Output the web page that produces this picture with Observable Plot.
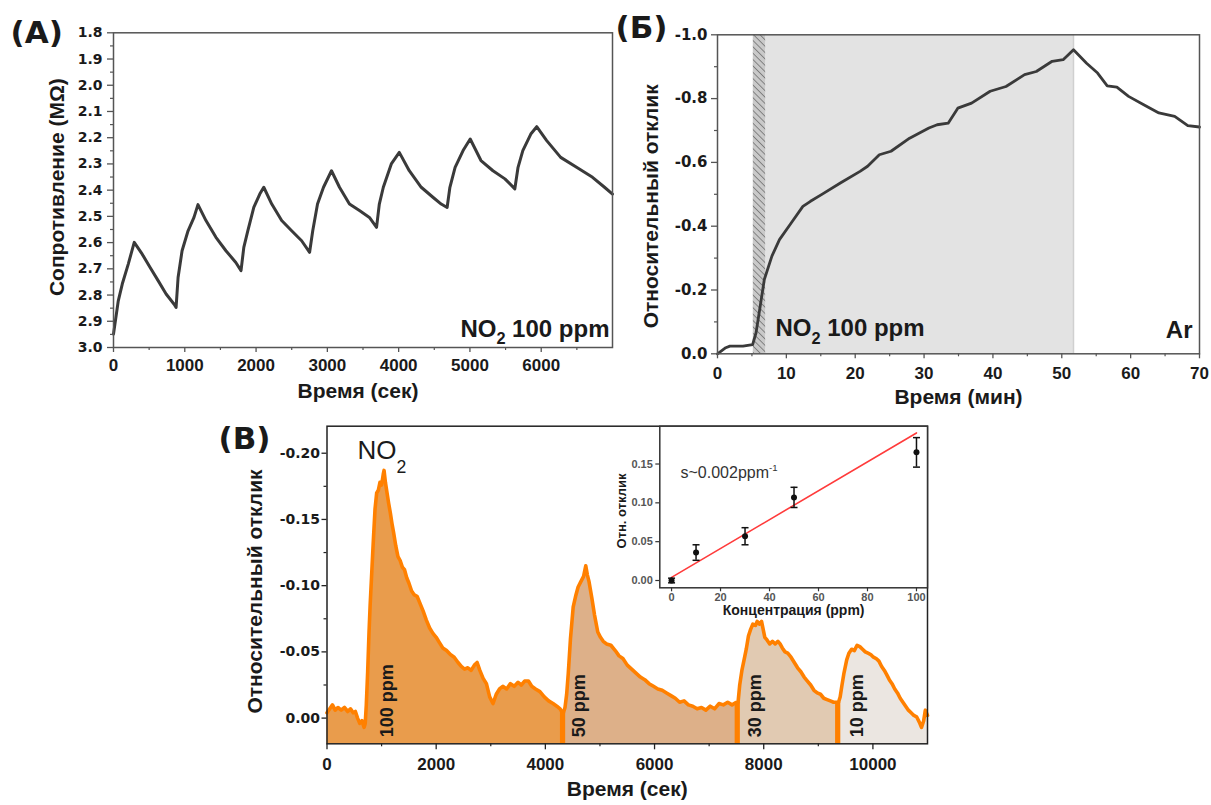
<!DOCTYPE html>
<html><head><meta charset="utf-8">
<script src="https://cdn.jsdelivr.net/npm/d3@7"></script>
<script src="https://cdn.jsdelivr.net/npm/@observablehq/plot@0.6"></script>
<style>
body{margin:0;background:#fff;}
#fig{position:relative;width:1211px;height:805px;background:#fff;overflow:hidden;}
#fig svg{position:absolute;}
</style></head><body><div id="fig"></div>
<script>
// ---------- Panel A: resistance vs time ----------
const aTime = [0,67,123,207,291,403,514,626,738,850,878,906,962,1046,1129,1185,1297,1437,1577,1716,1789,1828,1884,1968,2052,2108,2220,2359,2499,2639,2751,2795,2862,2946,3058,3170,3310,3450,3590,3690,3729,3785,3897,4009,4149,4317,4485,4597,4680,4719,4792,4904,5004,5155,5323,5491,5630,5675,5742,5854,5937,6077,6273,6496,6720,6888,7000];
const aRes  = [2.949,2.822,2.758,2.682,2.599,2.644,2.695,2.745,2.796,2.835,2.847,2.733,2.631,2.555,2.504,2.455,2.516,2.58,2.631,2.676,2.707,2.618,2.555,2.466,2.415,2.389,2.453,2.516,2.555,2.593,2.637,2.555,2.453,2.389,2.326,2.389,2.453,2.478,2.504,2.542,2.453,2.389,2.3,2.256,2.326,2.389,2.428,2.453,2.466,2.389,2.313,2.249,2.205,2.287,2.326,2.357,2.395,2.313,2.249,2.186,2.158,2.211,2.275,2.313,2.351,2.389,2.415];
const aYTicks = [1.8,1.9,2.0,2.1,2.2,2.3,2.4,2.5,2.6,2.7,2.8,2.9,3.0];
const aYMinor = [1.85,1.95,2.05,2.15,2.25,2.35,2.45,2.55,2.65,2.75,2.85,2.95];
const aXTicks = [0,1000,2000,3000,4000,5000,6000];
const aXMinor = [500,1500,2500,3500,4500,5500,6500];

// ---------- Panel Б: relative response vs time (min) ----------
const bTime = [0,1.2,1.8,3.7,5.1,5.6,6.2,6.8,7.9,9.0,10.7,12.4,13.5,15.1,17.9,20.7,21.8,23.5,25.2,27.9,30.7,31.9,33.5,34.9,36.9,39.6,41.9,44.6,46.3,48.6,50.2,51.7,53.6,55.2,56.6,58.0,59.7,61.9,64.1,66.4,68.3,70];
const bResp = [0,-0.019,-0.024,-0.024,-0.029,-0.066,-0.149,-0.233,-0.306,-0.358,-0.41,-0.462,-0.478,-0.499,-0.536,-0.572,-0.588,-0.624,-0.635,-0.676,-0.708,-0.718,-0.723,-0.770,-0.786,-0.823,-0.838,-0.875,-0.885,-0.917,-0.922,-0.953,-0.911,-0.880,-0.840,-0.836,-0.807,-0.781,-0.755,-0.744,-0.715,-0.711];
const bHatch = [5.2, 7.0];
const bGas = [7.0, 51.7];
const bYTicks = [-1.0,-0.8,-0.6,-0.4,-0.2,0.0];
const bYMinor = [-0.9,-0.7,-0.5,-0.3,-0.1];
const bXTicks = [0,10,20,30,40,50,60,70];
const bXMinor = [5,15,25,35,45,55,65];

// ---------- Panel В: response to NO2 pulses ----------
const seg100 = [[0,-0.004],[50,-0.007],[100,-0.010],[150,-0.006],[200,-0.008],[260,-0.006],[320,-0.008],[380,-0.005],[430,-0.007],[480,-0.004],[520,-0.005],[560,0.000],[600,0.004],[640,0.002],[680,0.007],[700,0.004],[720,-0.010],[745,-0.035],[770,-0.065],[790,-0.085],[820,-0.110],[850,-0.135],[880,-0.158],[910,-0.170],[940,-0.172],[970,-0.178],[1000,-0.176],[1030,-0.184],[1045,-0.187],[1070,-0.178],[1100,-0.170],[1130,-0.162],[1160,-0.155],[1190,-0.147],[1220,-0.140],[1260,-0.130],[1300,-0.122],[1340,-0.119],[1380,-0.114],[1420,-0.112],[1460,-0.106],[1500,-0.102],[1550,-0.096],[1600,-0.093],[1650,-0.092],[1700,-0.087],[1760,-0.081],[1820,-0.074],[1880,-0.068],[1940,-0.064],[2000,-0.061],[2060,-0.057],[2120,-0.053],[2190,-0.051],[2260,-0.048],[2330,-0.046],[2400,-0.042],[2460,-0.039],[2520,-0.037],[2580,-0.038],[2640,-0.036],[2700,-0.040],[2750,-0.042],[2800,-0.036],[2860,-0.030],[2920,-0.026],[2980,-0.016],[3040,-0.011],[3100,-0.018],[3160,-0.022],[3220,-0.024],[3290,-0.022],[3360,-0.026],[3430,-0.024],[3500,-0.027],[3560,-0.025],[3620,-0.028],[3690,-0.028],[3750,-0.024],[3820,-0.022],[3900,-0.020],[3980,-0.016],[4060,-0.013],[4140,-0.011],[4210,-0.009],[4270,-0.007],[4300,-0.005]];
const seg50 = [[4330,-0.004],[4360,-0.008],[4390,-0.018],[4420,-0.034],[4460,-0.060],[4510,-0.084],[4560,-0.093],[4600,-0.099],[4650,-0.103],[4700,-0.107],[4740,-0.115],[4770,-0.108],[4800,-0.103],[4850,-0.091],[4900,-0.078],[4960,-0.065],[5010,-0.061],[5060,-0.058],[5120,-0.056],[5200,-0.055],[5280,-0.051],[5350,-0.047],[5420,-0.045],[5500,-0.040],[5580,-0.037],[5660,-0.034],[5740,-0.031],[5820,-0.029],[5900,-0.026],[5980,-0.024],[6060,-0.022],[6140,-0.021],[6220,-0.019],[6300,-0.017],[6380,-0.015],[6460,-0.012],[6540,-0.013],[6620,-0.010],[6700,-0.009],[6780,-0.007],[6860,-0.008],[6940,-0.006],[7020,-0.009],[7100,-0.007],[7180,-0.011],[7260,-0.010],[7340,-0.012],[7420,-0.010],[7500,-0.012]];
const seg30 = [[7530,-0.012],[7560,-0.025],[7600,-0.036],[7640,-0.044],[7680,-0.052],[7720,-0.062],[7760,-0.067],[7800,-0.071],[7850,-0.070],[7880,-0.073],[7920,-0.071],[7960,-0.073],[7990,-0.067],[8020,-0.061],[8060,-0.059],[8110,-0.056],[8160,-0.058],[8210,-0.056],[8260,-0.058],[8300,-0.056],[8340,-0.053],[8390,-0.050],[8440,-0.049],[8500,-0.046],[8560,-0.042],[8620,-0.038],[8680,-0.035],[8740,-0.031],[8800,-0.028],[8860,-0.025],[8920,-0.021],[8980,-0.019],[9040,-0.018],[9100,-0.015],[9160,-0.014],[9220,-0.013],[9280,-0.012],[9340,-0.012]];
const seg10 = [[9370,-0.012],[9400,-0.016],[9430,-0.024],[9470,-0.034],[9520,-0.044],[9560,-0.049],[9610,-0.052],[9660,-0.051],[9710,-0.055],[9760,-0.054],[9810,-0.052],[9860,-0.050],[9910,-0.049],[9960,-0.048],[10010,-0.046],[10060,-0.045],[10110,-0.043],[10160,-0.039],[10210,-0.036],[10250,-0.033],[10300,-0.029],[10350,-0.026],[10400,-0.022],[10450,-0.019],[10500,-0.015],[10550,-0.012],[10600,-0.009],[10650,-0.006],[10700,-0.004],[10750,-0.002],[10800,-0.001],[10850,0.003],[10890,0.007],[10930,0.002],[10960,-0.006],[11000,-0.002]];
const ppmLabels = ["100 ppm","50 ppm","30 ppm","10 ppm"];
const ppmLabelTime = [1108, 4615, 7839, 9716];
const cYTicks = [-0.20,-0.15,-0.10,-0.05,0.00];
const cYMinor = [-0.175,-0.125,-0.075,-0.025];
const cXTicks = [0,2000,4000,6000,8000,10000];
const cXMinor = [1000,3000,5000,7000,9000];

// ---------- Inset: response vs concentration ----------
const concPpm  = [0, 10, 30, 50, 100];
const concResp = [0.000, 0.036, 0.057, 0.107, 0.165];
const concErr  = [0.003, 0.010, 0.011, 0.013, 0.019];
const fitPpm   = [0, 100];
const fitResp  = [0.004, 0.190];
const iYTicks = [0.00,0.05,0.10,0.15];
const iXTicks = [0,20,40,60,80,100];

// ---------- helpers ----------
const FT = "'Liberation Sans', Arial, sans-serif";
const FD = "'DejaVu Sans', sans-serif";
const INK = "#1a1a1a";
const baseStyle = {fontFamily: FT, fontSize: "16px", fontWeight: "bold", color: INK, background: "transparent", overflow: "visible"};
const blank = () => "";
const fig = document.getElementById("fig");
function place(svg, left, top) { svg.style.left = left + "px"; svg.style.top = top + "px"; fig.appendChild(svg); }
const NS = "http://www.w3.org/2000/svg";
function richText(svg) {
  svg.querySelectorAll("text").forEach(el => {
    const s = el.textContent;
    let mark, rep, dy, size;
    if (s.includes("₂")) { mark = "₂"; rep = "2"; size = 0.68; dy = (s.length <= 3 ? 0.55 : 0.33); }
    else if (s.includes("⁻¹")) { mark = "⁻¹"; rep = "-1"; size = 0.6; dy = -0.42; }
    else return;
    const [pre, post] = s.split(mark);
    while (el.firstChild) el.removeChild(el.firstChild);
    const a = document.createElementNS(NS, "tspan"); a.textContent = pre; el.appendChild(a);
    const b = document.createElementNS(NS, "tspan"); b.textContent = rep;
    b.setAttribute("font-size", (size * 100) + "%"); b.setAttribute("dy", (dy / size) + "em"); el.appendChild(b);
    if (post) { const c = document.createElementNS(NS, "tspan"); c.textContent = post; c.setAttribute("dy", (-dy) + "em"); el.appendChild(c); }
  });
}
// rotated (-90°) title centred at screen offset (sx, sy) from the frame's left-middle point
const vTitle = (txt, sx, sy, size) => Plot.text([txt], {frameAnchor: "left", rotate: -90, textAnchor: "middle", dx: sx, dy: sy, fontSize: size, fill: INK});

// ---------- Panel A ----------
const dataA = aTime.map((t, i) => ({t, r: aRes[i]}));
const plotA = Plot.plot({
  width: 625, height: 410, marginLeft: 113, marginRight: 13, marginTop: 32.3, marginBottom: 63,
  style: baseStyle,
  x: {domain: [0, 7000]},
  y: {domain: [1.8, 3.0], reverse: true},
  marks: [
    Plot.line(dataA, {x: "t", y: "r", stroke: "#3a3a3a", strokeWidth: 3, strokeLinejoin: "round"}),
    Plot.frame({stroke: "#555", strokeWidth: 1.5}),
    Plot.axisY({ticks: aYTicks, tickFormat: d => d.toFixed(1), tickSize: 6, tickPadding: 5, label: null, fontFamily: FD, fontSize: 14, fill: INK, stroke: "#555", strokeWidth: 1.3}),
    Plot.axisY({ticks: aYMinor, tickFormat: blank, tickSize: 3, label: null, stroke: "#555", strokeWidth: 1.2}),
    Plot.axisX({ticks: aXTicks, tickFormat: d => String(d), tickSize: 5, tickPadding: 6, label: null, fontSize: 17, fill: INK, stroke: "#555", strokeWidth: 1.3}),
    Plot.axisX({ticks: aXMinor, tickFormat: blank, tickSize: 3, label: null, stroke: "#555", strokeWidth: 1.2}),
    Plot.text(["Время (сек)"], {frameAnchor: "bottom", dx: -5, dy: 50, fontSize: 21, fill: INK}),
    vTitle("Сопротивление (MΩ)", -56, -3, 21),
    Plot.text(["NO₂ 100 ppm"], {frameAnchor: "bottom-right", dx: -3, dy: -11, textAnchor: "end", lineAnchor: "bottom", fontSize: 24, fill: INK}),
    Plot.text(["(A)"], {frameAnchor: "top-left", dx: -103, dy: 10, textAnchor: "start", lineAnchor: "bottom", fontFamily: FD, fontSize: 31, fill: INK})
  ]
});
richText(plotA);
place(plotA, 0, 0);

// ---------- Panel Б ----------
const dataB = bTime.map((t, i) => ({t, v: bResp[i]}));
const plotB = Plot.plot({
  width: 601, height: 410, marginLeft: 107, marginRight: 12, marginTop: 34.3, marginBottom: 56.7,
  style: baseStyle,
  x: {domain: [0, 70]},
  y: {domain: [0, -1]},
  marks: [
    () => {
      const defs = document.createElementNS(NS, "defs");
      defs.innerHTML = '<pattern id="hatchB" patternUnits="userSpaceOnUse" width="4.5" height="4.5" patternTransform="rotate(-45)"><rect width="4.5" height="4.5" fill="#c9c9c9"/><line x1="0" y1="0" x2="0" y2="4.5" stroke="#4a4a4a" stroke-width="1.1"/></pattern>';
      return defs;
    },
    Plot.rect([bGas], {x1: d => d[0], x2: d => d[1], fill: "#e3e3e3"}),
    Plot.rect([bHatch], {x1: d => d[0], x2: d => d[1], fill: "url(#hatchB)"}),
    Plot.ruleX([bGas[1]], {stroke: "#d0d0d0", strokeWidth: 1.5}),
    Plot.line(dataB, {x: "t", y: "v", stroke: "#3a3a3a", strokeWidth: 2.8, strokeLinejoin: "round"}),
    Plot.frame({stroke: "#555", strokeWidth: 1.5}),
    Plot.axisY({ticks: bYTicks, tickFormat: d => d.toFixed(1), tickSize: 6, tickPadding: 4, label: null, fontFamily: FD, fontSize: 15, fill: INK, stroke: "#555", strokeWidth: 1.3}),
    Plot.axisY({ticks: bYMinor, tickFormat: blank, tickSize: 3, label: null, stroke: "#555", strokeWidth: 1.2}),
    Plot.axisX({ticks: bXTicks, tickFormat: d => String(d), tickSize: 5, tickPadding: 8, label: null, fontSize: 17, fill: INK, stroke: "#555", strokeWidth: 1.3}),
    Plot.axisX({ticks: bXMinor, tickFormat: blank, tickSize: 3, label: null, stroke: "#555", strokeWidth: 1.2}),
    Plot.text(["Время (мин)"], {frameAnchor: "bottom", dy: 50, fontSize: 21, fill: INK}),
    vTitle("Относительный отклик", -66, 12, 21),
    Plot.text(["NO₂ 100 ppm"], {frameAnchor: "bottom-left", dx: 58, dy: -18, textAnchor: "start", lineAnchor: "bottom", fontSize: 24, fill: INK}),
    Plot.text(["Ar"], {frameAnchor: "bottom-right", dx: -7, dy: -16, textAnchor: "end", lineAnchor: "bottom", fontSize: 24, fill: INK}),
    Plot.text(["(Б)"], {frameAnchor: "top-left", dx: -102, dy: 3, textAnchor: "start", lineAnchor: "bottom", fontFamily: FD, fontSize: 31, fill: INK})
  ]
});
richText(plotB);
place(plotB, 610, 0);

// ---------- Panel В ----------
const yC = [0.0194, -0.2204];
const toObj = s => s.map(([t, v]) => ({t, v}));
const allC = [...seg100, ...seg50, ...seg30, ...seg10].map(([t, v]) => ({t, v}));
const segs = [seg100, seg50, seg30, seg10];
const bounds = [];
segs.forEach((s, i) => {
  if (i > 0) bounds.push({t: s[0][0], v: s[0][1]});
  if (i < segs.length - 1) bounds.push({t: s[s.length - 1][0], v: s[s.length - 1][1]});
});
const fills = ["#e99c4c", "#ddb089", "#e1cab2", "#ebe6e1"];
const plotC = Plot.plot({
  width: 730, height: 390, marginLeft: 111.5, marginRight: 18, marginTop: 10.7, marginBottom: 61.7,
  style: baseStyle,
  x: {domain: [0, 11000]},
  y: {domain: yC},
  marks: [
    ...segs.map((s, i) => Plot.areaY(toObj(s), {x: "t", y1: yC[0], y2: "v", fill: fills[i]})),
    Plot.line(allC, {x: "t", y: "v", stroke: "#ff8000", strokeWidth: 3.6, strokeLinejoin: "round"}),
    Plot.ruleX(bounds, {x: "t", y1: yC[0], y2: "v", stroke: "#ff8000", strokeWidth: 3.6}),
    Plot.text(ppmLabels, {x: (d, i) => ppmLabelTime[i], y: 0.0145, rotate: -90, textAnchor: "start", fontSize: 18, fill: INK}),
    Plot.frame({stroke: "#222", strokeWidth: 1.5}),
    Plot.axisY({ticks: cYTicks, tickFormat: d => d.toFixed(2), tickSize: 5, tickPadding: 2, label: null, fontFamily: FD, fontSize: 14, fill: INK, stroke: "#222", strokeWidth: 1.3}),
    Plot.axisY({ticks: cYMinor, tickFormat: blank, tickSize: 3, label: null, stroke: "#222", strokeWidth: 1.2}),
    Plot.axisX({ticks: cXTicks, tickFormat: d => String(d), tickSize: 6, tickPadding: 8, label: null, fontSize: 17, fill: INK, stroke: "#222", strokeWidth: 1.3}),
    Plot.axisX({ticks: cXMinor, tickFormat: blank, tickSize: 3, label: null, stroke: "#222", strokeWidth: 1.2}),
    Plot.text(["Время (сек)"], {frameAnchor: "bottom", dy: 52, fontSize: 21, fill: INK}),
    vTitle("Относительный отклик", -71.5, 6.5, 21),
    Plot.text(["NO₂"], {frameAnchor: "top-left", dx: 30.5, dy: 32.3, textAnchor: "start", lineAnchor: "bottom", fontSize: 26, fontWeight: "normal", fill: INK}),
    Plot.text(["(В)"], {frameAnchor: "top-left", dx: -108.5, dy: 23, textAnchor: "start", lineAnchor: "bottom", fontFamily: FD, fontSize: 31, fill: INK})
  ]
});
richText(plotC);
place(plotC, 215, 415);

// ---------- Inset ----------
const pts = concPpm.map((c, i) => ({c, r: concResp[i], e: concErr[i]}));
const fit = fitPpm.map((c, i) => ({c, r: fitResp[i]}));
const capSym = {draw(ctx, size) { const w = Math.sqrt(size / Math.PI); ctx.moveTo(-w, 0); ctx.lineTo(w, 0); }};
const plotI = Plot.plot({
  width: 340, height: 215, marginLeft: 59.3, marginRight: 13, marginTop: 10.7, marginBottom: 42.7,
  style: baseStyle,
  x: {domain: [-4.8, 104.5]},
  y: {domain: [-0.0094, 0.1987]},
  marks: [
    Plot.frame({fill: "white", stroke: "none"}),
    Plot.line(fit, {x: "c", y: "r", stroke: "#ff3b3b", strokeWidth: 1.6}),
    Plot.ruleX(pts, {x: "c", y1: d => d.r - d.e, y2: d => d.r + d.e, stroke: "#111", strokeWidth: 1.5}),
    Plot.dot(pts, {x: "c", y: d => d.r + d.e, symbol: capSym, r: 3.5, stroke: "#111", strokeWidth: 1.5}),
    Plot.dot(pts, {x: "c", y: d => d.r - d.e, symbol: capSym, r: 3.5, stroke: "#111", strokeWidth: 1.5}),
    Plot.dot(pts, {x: "c", y: "r", r: 3, fill: "#111", stroke: "none"}),
    Plot.frame({stroke: "#333", strokeWidth: 1.5}),
    Plot.axisY({ticks: iYTicks, tickFormat: d => d.toFixed(2), tickSize: 4, tickPadding: 3, label: null, fontSize: 11, fill: "#555", stroke: "#333", strokeWidth: 1.2}),
    Plot.axisX({ticks: iXTicks, tickFormat: d => String(d), tickSize: 4, tickPadding: 1, label: null, fontSize: 11, fill: "#555", stroke: "#333", strokeWidth: 1.2}),
    Plot.text(["Концентрация (ppm)"], {frameAnchor: "bottom", dy: 27, fontSize: 14, fill: INK}),
    vTitle("Отн. отклик", -38, 4, 13),
    Plot.text(["s~0.002ppm⁻¹"], {frameAnchor: "top-left", dx: 20.7, dy: 51.3, textAnchor: "start", lineAnchor: "bottom", fontSize: 16, fontWeight: "normal", fill: "#333"})
  ]
});
richText(plotI);
place(plotI, 600, 415);
</script></body></html>
